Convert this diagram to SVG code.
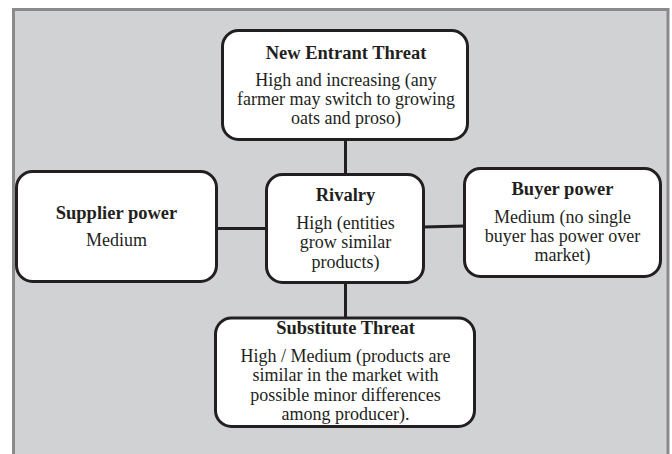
<svg xmlns="http://www.w3.org/2000/svg" width="672" height="454" viewBox="0 0 672 454">
<style>
.node rect{fill:#ffffff;stroke:#231f20;stroke-width:3}
.conn line{stroke:#231f20;stroke-width:3}
text{font-family:"Liberation Serif","Times New Roman",serif;font-size:18px;fill:#231f20;text-anchor:middle}
.t{font-weight:bold;font-size:18.5px}
</style>
<rect x="0" y="0" width="672" height="454" fill="#ffffff"/>
<rect x="13.5" y="9.5" width="654.5" height="460" fill="#d1d2d4" stroke="#8a8a8c" stroke-width="3"/>
<g class="conn" id="connectors">
<line x1="345.5" y1="140" x2="345.5" y2="175"/>
<line x1="345.5" y1="282" x2="345.5" y2="319"/>
<line x1="217" y1="228.5" x2="267" y2="228.5"/>
<line x1="423" y1="227" x2="465" y2="226"/>
</g>
<g class="node" id="new-entrant">
<rect x="222.5" y="30.5" width="245" height="109" rx="16"/>
<text class="t" x="346" y="58.5">New Entrant Threat</text>
<text x="346" y="86">High and increasing (any</text>
<text x="346" y="105.3">farmer may switch to growing</text>
<text x="346" y="124.3">oats and proso)</text>
</g>
<g class="node" id="supplier">
<rect x="16.5" y="171.5" width="200" height="110" rx="16"/>
<text class="t" x="116.5" y="219.3">Supplier power</text>
<text x="116.5" y="246">Medium</text>
</g>
<g class="node" id="rivalry">
<rect x="266.5" y="174.5" width="157" height="108" rx="16"/>
<text class="t" x="345.5" y="201">Rivalry</text>
<text x="345.5" y="229.3">High (entities</text>
<text x="345.5" y="248.3">grow similar</text>
<text x="345.5" y="267.7">products)</text>
</g>
<g class="node" id="buyer">
<rect x="464.5" y="168.5" width="196" height="108" rx="16"/>
<text class="t" x="562.5" y="195">Buyer power</text>
<text x="562.5" y="222.7">Medium (no single</text>
<text x="562.5" y="241.7">buyer has power over</text>
<text x="562.5" y="261">market)</text>
</g>
<g class="node" id="substitute">
<rect x="215.5" y="318" width="259" height="108.5" rx="16"/>
<text class="t" x="345.5" y="334.3">Substitute Threat</text>
<text x="345.5" y="361.7">High / Medium (products are</text>
<text x="345.5" y="381">similar in the market with</text>
<text x="345.5" y="400.5">possible minor differences</text>
<text x="345.5" y="419.7">among producer).</text>
</g>
</svg>
